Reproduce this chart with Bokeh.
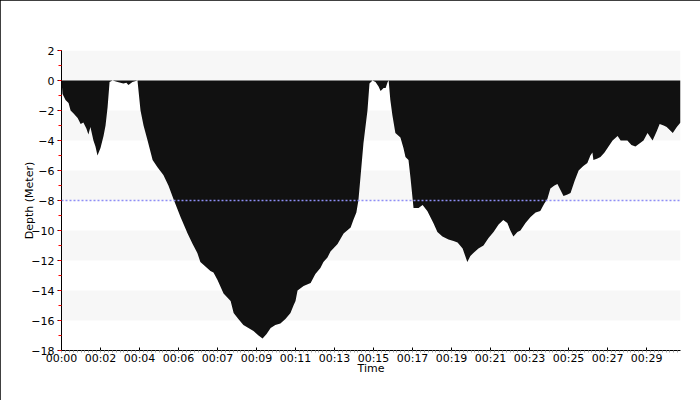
from bokeh.plotting import figure
from bokeh.models import (Range1d, SingleIntervalTicker, FixedTicker, Span, ColumnDataSource)
from bokeh.embed import file_html
from bokeh.resources import INLINE

# elapsed time (seconds) and depth (meters)
time_s = [0, 3, 12, 21, 27, 36, 48, 57, 65, 74, 80, 86, 95, 101, 107, 116, 125, 131, 137, 143,
          152, 167, 184, 193, 199, 211, 226, 235, 244, 256, 271, 286, 303, 318, 333, 354,
          375, 390, 404, 413, 428, 443, 452, 464, 482, 503, 512, 526, 541, 556, 571, 586,
          598, 610, 622, 636, 651, 666, 681, 690, 696, 702, 720, 741, 755, 770, 779, 791,
          800, 821, 839, 860, 868, 877, 883, 889, 898, 910, 916, 925, 934, 943, 949, 958,
          964, 970, 973, 978, 984, 993, 1008, 1017, 1023, 1032, 1038, 1047, 1062, 1074,
          1088, 1106, 1118, 1133, 1151, 1166, 1178, 1193, 1207, 1216, 1225, 1240, 1255,
          1270, 1285, 1300, 1314, 1326, 1335, 1344, 1356, 1365, 1380, 1395, 1410, 1424,
          1436, 1445, 1454, 1466, 1475, 1484, 1493, 1505, 1514, 1526, 1538, 1552, 1564,
          1573, 1579, 1582, 1594, 1603, 1615, 1624, 1639, 1654, 1663, 1675, 1683, 1695,
          1707, 1719, 1731, 1743, 1752, 1758, 1770, 1779, 1791, 1800, 1809, 1818, 1830, 1841]
depth_m = [0, -0.9, -1.3, -1.5, -2.0, -2.2, -2.5, -2.9, -2.8, -3.2, -3.6, -3.1, -4.0, -4.4,
           -5.0, -4.5, -3.7, -3.0, -1.8, -0.1, 0, -0.1, -0.2, -0.15, -0.3, -0.1, 0, -2.0,
           -3.0, -4.0, -5.3, -5.8, -6.3, -7.0, -7.9, -9.1, -10.2, -10.9, -11.5, -12.1,
           -12.4, -12.7, -12.8, -13.3, -14.2, -14.7, -15.5, -15.9, -16.3, -16.5, -16.7,
           -17.0, -17.2, -16.9, -16.5, -16.3, -16.2, -15.9, -15.5, -15.0, -14.7, -14.0,
           -13.7, -13.5, -12.9, -12.5, -12.1, -11.8, -11.4, -10.9, -10.2, -9.8, -9.3, -8.8,
           -8.0, -6.5, -4.2, -2.0, -0.2, 0, -0.1, -0.4, -0.7, -0.5, -0.5, -0.1, 0, -1.3,
           -2.3, -3.5, -3.8, -4.5, -5.1, -5.3, -6.5, -8.5, -8.5, -8.3, -8.7, -9.5, -10.1,
           -10.4, -10.6, -10.7, -10.8, -11.2, -12.1, -11.7, -11.5, -11.2, -11.0, -10.5,
           -10.1, -9.6, -9.3, -9.5, -10.0, -10.4, -10.1, -10.0, -9.5, -9.1, -8.8, -8.7,
           -8.2, -7.9, -7.2, -7.0, -6.9, -7.3, -7.7, -7.6, -7.5, -6.7, -6.0, -5.7, -5.5,
           -5.0, -4.8, -5.3, -5.2, -5.1, -4.8, -4.5, -4.0, -3.7, -4.0, -4.0, -4.0, -4.3,
           -4.4, -4.2, -4.0, -3.5, -3.8, -4.0, -3.4, -2.9, -3.0, -3.1, -3.3, -3.5, -3.1, -2.8]

tick_labels = ["00:00", "00:02", "00:04", "00:06", "00:07", "00:09", "00:11", "00:13",
               "00:15", "00:17", "00:19", "00:21", "00:23", "00:25", "00:27", "00:29"]
tick_step_s = 116
reference_depth = -8
y_min, y_max = -18, 2

tick_pos = [i * tick_step_s for i in range(len(tick_labels))]

FONT = "DejaVu Sans"

p = figure(width=700, height=400, output_backend="svg", toolbar_location=None,
           x_range=Range1d(time_s[0], time_s[-1]), y_range=Range1d(y_min, y_max),
           min_border_left=61, min_border_right=20, min_border_top=50, min_border_bottom=50,
           background_fill_color="white", border_fill_color="white")
p.styles = {"outline": "1px solid black", "outline-offset": "-1px"}
p.outline_line_color = None
p.grid.grid_line_color = None

# alternating light bands
band_bottoms = list(range(y_min + 2, y_max, 4))
p.quad(left=time_s[0], right=time_s[-1], bottom=band_bottoms,
       top=[b + 2 for b in band_bottoms], fill_color="#f7f7f7", line_color=None,
       level="underlay")

src = ColumnDataSource(dict(t=time_s, d=depth_m))
p.varea(x="t", y1=0, y2="d", source=src, fill_color="#111111")

p.add_layout(Span(location=reference_depth, dimension="width", line_color="#8f8ff5",
                  line_width=1.5, line_dash="2 2"))

# axes
xa = p.xaxis[0]
xa.ticker = FixedTicker(ticks=tick_pos,
                        minor_ticks=[i * tick_step_s / 10 for i in range(0, 10 * 16 + 1)])
xa.major_label_overrides = {t: l for t, l in zip(tick_pos, tick_labels)}
xa.axis_label = "Time"
xa.axis_line_color = "black"
xa.major_tick_in = 3
xa.major_tick_out = 0
xa.major_tick_line_color = "black"
xa.minor_tick_in = 0
xa.minor_tick_out = 2
xa.minor_tick_line_color = "#aaaaaa"
xa.major_label_standoff = -1
xa.axis_label_standoff = -6

ya = p.yaxis[0]
ya.ticker = SingleIntervalTicker(interval=2, num_minor_ticks=2)
ya.axis_label = "Depth (Meter)"
ya.axis_line_color = "black"
ya.major_tick_in = 0
ya.major_tick_out = 4
ya.major_tick_line_color = "black"
ya.minor_tick_in = 0
ya.minor_tick_out = 3
ya.minor_tick_line_color = "red"
ya.major_label_standoff = 3
ya.axis_label_standoff = -8

for ax in (xa, ya):
    ax.major_label_text_font = FONT
    ax.major_label_text_font_size = "11px"
    ax.major_label_text_color = "black"
    ax.axis_label_text_font = FONT
    ax.axis_label_text_font_size = "11px"
    ax.axis_label_text_font_style = "normal"
    ax.axis_label_text_color = "black"

open("out.html", "w").write(file_html(p, INLINE))
